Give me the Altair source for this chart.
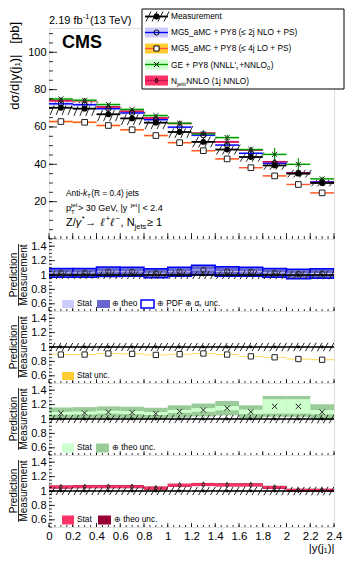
import altair as alt
import pandas as pd

FONT = "Liberation Sans"
W_PLOT = 285
H_MAIN = 211
H_RATIO = 72
NB = "\u00a0"

# ---------------- data ----------------
bin_lo = [0.0, 0.2, 0.4, 0.6, 0.8, 1.0, 1.2, 1.4, 1.6, 1.8, 2.0, 2.2]
bin_hi = [0.2, 0.4, 0.6, 0.8, 1.0, 1.2, 1.4, 1.6, 1.8, 2.0, 2.2, 2.4]
meas = [70.3, 69.8, 66.8, 64.6, 62.3, 57.3, 52.0, 47.9, 43.9, 39.4, 35.0, 30.0]
meas_rel_err = [0.055, 0.055, 0.055, 0.055, 0.055, 0.055, 0.056, 0.056, 0.057, 0.058, 0.058, 0.06]

nlo_pred = [72.4, 71.9, 69.8, 67.5, 63.9, 59.9, 55.6, 50.3, 45.9, 40.6, 35.5, 30.6]
lo_pred = [62.9, 62.5, 60.8, 58.5, 55.4, 51.6, 47.3, 42.9, 38.2, 33.8, 29.2, 24.7]
ge_pred = [75.0, 74.3, 72.0, 69.4, 66.1, 62.0, 56.3, 54.3, 47.9, 45.3, 40.0, 32.2]
ge_err = [0.4, 0.4, 0.5, 0.5, 0.5, 0.6, 0.8, 1.5, 1.5, 3.4, 3.2, 1.2]
nnlo_pred = [74.2, 74.0, 70.8, 68.5, 64.8, 61.9, 56.7, 52.0, 47.6, 41.4, 35.4, 30.3]

nlo_ratio = [1.03, 1.03, 1.045, 1.045, 1.025, 1.045, 1.07, 1.05, 1.045, 1.03, 1.015, 1.02]
nlo_theo = [0.062, 0.062, 0.066, 0.062, 0.062, 0.062, 0.066, 0.066, 0.062, 0.062, 0.066, 0.066]
nlo_stat = [0.006, 0.006, 0.006, 0.006, 0.006, 0.006, 0.006, 0.006, 0.007, 0.007, 0.008, 0.008]

lo_ratio = [0.895, 0.895, 0.91, 0.905, 0.89, 0.90, 0.91, 0.895, 0.87, 0.857, 0.833, 0.823]
lo_stat = [0.005, 0.005, 0.005, 0.005, 0.005, 0.005, 0.005, 0.005, 0.005, 0.005, 0.006, 0.006]

ge_ratio = [1.08, 1.085, 1.095, 1.09, 1.076, 1.105, 1.125, 1.15, 1.10, 1.175, 1.175, 1.095]
ge_stat = [0.02, 0.02, 0.02, 0.02, 0.02, 0.02, 0.025, 0.03, 0.03, 0.10, 0.10, 0.03]
ge_theo = [0.08, 0.08, 0.08, 0.08, 0.08, 0.085, 0.09, 0.10, 0.09, 0.145, 0.145, 0.11]

nnlo_ratio = [1.055, 1.06, 1.06, 1.06, 1.04, 1.08, 1.09, 1.085, 1.085, 1.05, 1.01, 1.01]
nnlo_stat = [0.018, 0.018, 0.018, 0.018, 0.018, 0.018, 0.018, 0.018, 0.018, 0.018, 0.018, 0.018]
nnlo_theo = [0.022, 0.022, 0.022, 0.022, 0.022, 0.022, 0.022, 0.022, 0.022, 0.022, 0.022, 0.022]

x_tick_labels = [0, 0.2, 0.4, 0.6, 0.8, 1.0, 1.2, 1.4, 1.6, 1.8, 2.0, 2.2, 2.4]
x_minor_ticks = [i * 0.05 for i in range(49)]
main_y_labels = [20, 40, 60, 80, 100]
main_y_major = [0, 20, 40, 60, 80, 100]
main_y_minor = list(range(0, 114, 5))
ratio_y_labels = [0.6, 0.8, 1.0, 1.2, 1.4]
ratio_y_minor = [0.5 + i * 0.05 for i in range(21)]

XDOM = [0, 2.4]
MAIN_YDOM = [0, 113]
RATIO_YDOM = [0.5, 1.5]

# colours
C_NLO_LINE, C_NLO_BAND = "#0000ff", "#ccccff"
C_LO_LINE, C_LO_BAND = "#ff5533", "#ffcc33"
C_GE_LINE, C_GE_BAND = "#009900", "#ccffcc"
C_NNLO_LINE, C_NNLO_BAND = "#cc1155", "#ff3366"

X_PATH = "M-1,-1L1,1M-1,1L1,-1"
DIAMOND_PATH = "M0,-1L0.55,0L0,1L-0.55,0Z"

one = pd.DataFrame({"d": [0]})

CW = {' ': .278, NB: .278, '(': .333, ')': .333, '+': .584, ',': .278, '-': .333, '.': .278,
      '/': .278, '<': .584, '=': .584, '>': .584, '|': .26, '[': .278, ']': .278, '_': .556,
      "'": .191, '≤': .584, '≥': .584, '⊕': .84, 'γ': .55, 'ℓ': .45, '→': .84, '*': .389,
      'α': .65, 'τ': .45, '−': .584, 'A': .667, 'C': .722, 'E': .667, 'G': .778, 'L': .556,
      'M': .833, 'N': .722, 'O': .778, 'P': .667, 'R': .722, 'S': .667, 'T': .611, 'V': .667,
      'Y': .667, 'Z': .611, 'c': .5, 'f': .278, 'i': .222, 'j': .222, 'k': .5, 'l': .222,
      'm': .833, 'r': .333, 's': .5, 't': .278, 'v': .5, 'x': .5, 'y': .5, 'z': .5}


def tw(s):
    return sum(CW.get(ch, 0.556) for ch in s)


def vtext(text, x, y, size=8.3, align="left", baseline="middle", weight="normal",
          style="normal", angle=0, color="black"):
    kw = dict(align=align, baseline=baseline, fontSize=size, font=FONT,
              fontWeight=weight, fontStyle=style, color=color)
    if angle:
        kw["angle"] = angle
    return alt.Chart(one).mark_text(**kw).encode(
        x=alt.value(x), y=alt.value(y), text=alt.value(text))


def rich(segs, x, y, size):
    """Text with sub/superscripts; spaces become non-breaking so SVG keeps them."""
    out = []
    cx = x
    for seg in segs:
        text, kind = seg[0], seg[1]
        adv = seg[2] if len(seg) > 2 else True
        text = text.replace(" ", NB)
        fs, dy, style = size, 0, "normal"
        if kind in ("i", "subi", "supi"):
            style = "italic"
        if kind in ("sub", "subi"):
            fs, dy = size * 0.68, size * 0.3
        if kind in ("sup", "supi"):
            fs, dy = size * 0.68, -size * 0.42
        out.append(vtext(text, cx, y + dy, size=fs, baseline="alphabetic", style=style))
        if adv:
            cx += tw(text) * fs + (0.6 if kind in ("sub", "sup") else 0)
    return out


def vrect(x1, x2, y1, y2, fill, stroke=None, sw=1):
    kw = dict(fill=fill)
    if stroke:
        kw.update(stroke=stroke, strokeWidth=sw)
    return alt.Chart(one).mark_rect(**kw).encode(
        x=alt.value(x1), x2=alt.value(x2), y=alt.value(y1), y2=alt.value(y2))


def vrule(x1, x2, y1, y2, color="black", sw=1):
    return alt.Chart(one).mark_rule(color=color, strokeWidth=sw).encode(
        x=alt.value(x1), x2=alt.value(x2), y=alt.value(y1), y2=alt.value(y2))


def vpoint(x, y, shape, fill=None, size=30, filled=False):
    kw = dict(shape=shape, size=size, stroke="black", strokeWidth=1, opacity=1)
    if filled:
        kw.update(filled=True, fill=fill or "black", fillOpacity=1)
    else:
        kw.update(filled=False)
    return alt.Chart(one).mark_point(**kw).encode(x=alt.value(x), y=alt.value(y))


def hatch_df(lo, hi, ylo, yhi, n, dx):
    rows = []
    for a, b, c, d in zip(lo, hi, ylo, yhi):
        step = (b - a) / n
        for k in range(n):
            x0 = a + (k + 0.2) * step
            rows.append({"hx": x0, "hx2": x0 + dx, "hy": c, "hy2": d})
    return pd.DataFrame(rows)


xscale = alt.Scale(domain=XDOM, nice=False, zero=False)


def make_x(field, bottom=False):
    if bottom:
        ax = alt.Axis(values=x_tick_labels, format="~g", ticks=False, domain=False, grid=False,
                      labelFontSize=11.5, labelPadding=3, labelFlush=False, labelOverlap=False,
                      labelColor="black", labelFont=FONT,
                      title="|y(j₁)|", titleFontSize=11.5, titleFontWeight="normal",
                      titleAnchor="end", titlePadding=1, titleColor="black", titleFont=FONT)
    else:
        ax = None
    return alt.X(field, type="quantitative", scale=xscale, axis=ax)


def make_y(field, main):
    if main:
        sc = alt.Scale(domain=MAIN_YDOM, nice=False, zero=False)
        ax = alt.Axis(values=main_y_labels, ticks=False, domain=False, grid=False,
                      labelFontSize=11, labelPadding=3, labelColor="black", labelFont=FONT,
                      title=None)
    else:
        sc = alt.Scale(domain=RATIO_YDOM, nice=False, zero=False)
        ax = alt.Axis(values=ratio_y_labels, format="~g", ticks=False, domain=False, grid=False,
                      labelFontSize=11, labelPadding=3, labelColor="black", labelFont=FONT,
                      title=None)
    return alt.Y(field, type="quantitative", scale=sc, axis=ax)


def tick_layers(main, H, bottom=False):
    ymaj, ymin = (main_y_major, main_y_minor) if main else (ratio_y_labels, ratio_y_minor)
    lmaj, lmin = (8, 4) if main else (6, 3)
    xl_maj, xl_min = (6, 3) if main else (4, 2)
    L = []
    L.append(alt.Chart(pd.DataFrame({"t": ymin})).mark_rule(color="black", strokeWidth=0.8).encode(
        x=alt.value(0), x2=alt.value(lmin), y=make_y("t", main)))
    L.append(alt.Chart(pd.DataFrame({"t": ymaj})).mark_rule(color="black", strokeWidth=0.8).encode(
        x=alt.value(0), x2=alt.value(lmaj), y=make_y("t", main)))
    L.append(alt.Chart(pd.DataFrame({"t": x_minor_ticks})).mark_rule(color="black", strokeWidth=0.8).encode(
        x=make_x("t", bottom), y=alt.value(H), y2=alt.value(H - xl_min)))
    L.append(alt.Chart(pd.DataFrame({"t": x_tick_labels})).mark_rule(color="black", strokeWidth=0.8).encode(
        x=make_x("t", bottom), y=alt.value(H), y2=alt.value(H - xl_maj)))
    return L


# ---------------- main panel ----------------
mdf = pd.DataFrame({"lo": bin_lo, "hi": bin_hi, "meas": meas, "err": meas_rel_err,
                    "nlo": nlo_pred, "lop": lo_pred, "ge": ge_pred, "gee": ge_err,
                    "nnlo": nnlo_pred})
mdf["mid"] = (mdf["lo"] + mdf["hi"]) / 2
mdf["ge_lo"] = mdf["ge"] - mdf["gee"]
mdf["ge_hi"] = mdf["ge"] + mdf["gee"]
for col, w in [("nlo", 0.012), ("lop", 0.008), ("ge", 0.012), ("nnlo", 0.01)]:
    mdf[col + "_b1"] = mdf[col] * (1 - w)
    mdf[col + "_b2"] = mdf[col] * (1 + w)

mh = hatch_df(bin_lo, bin_hi, [m * (1 - e) for m, e in zip(meas, meas_rel_err)],
              [m * (1 + e) for m, e in zip(meas, meas_rel_err)], 4, 0.05)

base = alt.Chart(mdf)
main_layers = []
main_layers.append(alt.Chart(mh).mark_rule(color="#222222", strokeWidth=1, clip=True).encode(
    x=make_x("hx"), x2="hx2", y=make_y("hy", True), y2="hy2"))
for col, band in [("lop", C_LO_BAND), ("nlo", C_NLO_BAND), ("nnlo", C_NNLO_BAND), ("ge", C_GE_BAND)]:
    main_layers.append(base.mark_rect(fill=band, opacity=0.9).encode(
        x=make_x("lo"), x2="hi", y=make_y(col + "_b1", True), y2=col + "_b2"))
for col, line in [("lop", C_LO_LINE), ("nlo", C_NLO_LINE), ("nnlo", C_NNLO_LINE), ("ge", C_GE_LINE)]:
    main_layers.append(base.mark_rule(color=line, strokeWidth=1.4).encode(
        x=make_x("lo"), x2="hi", y=make_y(col, True)))
main_layers.append(base.mark_rule(color=C_GE_LINE, strokeWidth=1.2).encode(
    x=make_x("mid"), y=make_y("ge_lo", True), y2="ge_hi"))
main_layers.append(base.mark_rule(color="black", strokeWidth=1.8).encode(
    x=make_x("lo"), x2="hi", y=make_y("meas", True)))
main_layers.append(base.mark_point(shape="circle", filled=False, stroke="black", strokeWidth=1,
                                   size=28, opacity=1).encode(x=make_x("mid"), y=make_y("nlo", True)))
main_layers.append(base.mark_point(shape="square", filled=True, fill="white", stroke="#222222",
                                   strokeWidth=1, size=32, fillOpacity=1, opacity=1).encode(
    x=make_x("mid"), y=make_y("lop", True)))
main_layers.append(base.mark_point(shape=X_PATH, filled=False, stroke="#222222", strokeWidth=1,
                                   size=26, opacity=1).encode(x=make_x("mid"), y=make_y("ge", True)))
main_layers.append(base.mark_point(shape=DIAMOND_PATH, filled=False, stroke="#222222", strokeWidth=1,
                                   size=30, opacity=1).encode(x=make_x("mid"), y=make_y("nnlo", True)))
main_layers.append(base.mark_circle(color="black", size=34, opacity=1).encode(
    x=make_x("mid"), y=make_y("meas", True)))
main_layers += tick_layers(True, H_MAIN)

# header texts
main_layers += rich([("2.19 fb", "n"), ("-1", "sup"), (" (13 TeV)", "n")], 0, -4, 11)
main_layers.append(vtext("CMS", 13, 20, size=18, weight="bold", baseline="alphabetic"))
main_layers += rich([("Anti-", "n"), ("k", "i"), ("T", "sub"), (" (R = 0.4) jets", "n")], 17, 167.5, 8.3)
main_layers += rich([("p", "n"), ("T", "sub", False), ("jet", "sup"), (" > 30 GeV, |y", "n"),
                     ("jet", "sup"), ("| < 2.4", "n")], 17, 183, 9)
main_layers += rich([("Z/", "n"), ("γ", "i"), ("*", "sup"), (" → ", "n"), ("ℓ", "i"), ("+", "sup"),
                     ("ℓ", "i"), ("−", "sup"), (", N", "n"), ("jets", "sub"), (" ≥ 1", "n")],
                    17, 197.5, 11)
main_layers.append(vtext("dσ/d|y(j₁)|" + NB * 3 + "[pb]", -34, -6, size=13, align="right",
                         baseline="middle", angle=270))

# legend
LX1, LX2 = 96, 119
LXM = (LX1 + LX2) / 2
main_layers.append(vrect(93, 295, -19, 61, "white", stroke="black", sw=1))
legend_rows = [-11.5, 4.5, 20.5, 36.5, 52.5]
c = legend_rows[0]
for k in range(4):
    main_layers.append(vrule(LX1 + 1 + k * 6, LX1 + 6 + k * 6, c + 5, c - 5, color="#222222"))
main_layers.append(vrule(LX1, LX2, c, c, color="black", sw=1.8))
main_layers.append(vpoint(LXM, c, "circle", size=28, filled=True))
main_layers.append(vtext("Measurement", 122, c))
for c, band, line, shape, filled in [(legend_rows[1], C_NLO_BAND, C_NLO_LINE, "circle", False),
                                     (legend_rows[2], C_LO_BAND, C_LO_LINE, "square", True),
                                     (legend_rows[3], C_GE_BAND, C_GE_LINE, X_PATH, False),
                                     (legend_rows[4], C_NNLO_BAND, C_NNLO_LINE, DIAMOND_PATH, False)]:
    main_layers.append(vrect(LX1, LX2, c - 5, c + 5, band))
    main_layers.append(vrule(LX1, LX2, c, c, color=line, sw=1.4))
    main_layers.append(vpoint(LXM, c, shape, fill="white", size=26, filled=filled))
main_layers.append(vtext("MG5_aMC + PY8 (≤ 2j NLO + PS)", 122, legend_rows[1]))
main_layers.append(vtext("MG5_aMC + PY8 (≤ 4j LO + PS)", 122, legend_rows[2]))
main_layers += rich([("GE + PY8 (NNLL'", "n"), ("τ", "sub"), ("+NNLO", "n"), ("0", "sub"), (")", "n")],
                    122, legend_rows[3] + 3, 8.3)
main_layers += rich([("N", "n"), ("jetti", "sub"), (" NNLO (1j NNLO)", "n")], 122, legend_rows[4] + 3, 8.3)

main_chart = alt.layer(*main_layers).properties(width=W_PLOT, height=H_MAIN)


# ---------------- ratio panels ----------------
def ratio_panel(ratio, bands, marker, legend, bottom=False):
    H = H_RATIO
    rdf = pd.DataFrame({"lo": bin_lo, "hi": bin_hi, "r": ratio, "one": [1.0] * len(bin_lo)})
    rdf["mid"] = (rdf["lo"] + rdf["hi"]) / 2
    for i, (half, fill, stroke) in enumerate(bands):
        rdf[f"b{i}a"] = [r - h for r, h in zip(ratio, half)]
        rdf[f"b{i}b"] = [r + h for r, h in zip(ratio, half)]
    rb = alt.Chart(rdf)
    L = []
    for i, (half, fill, stroke) in enumerate(bands):
        kw = dict(fill=fill, clip=True)
        if stroke:
            kw.update(stroke=stroke, strokeWidth=1.5)
        L.append(rb.mark_rect(**kw).encode(x=make_x("lo", bottom), x2="hi",
                                           y=make_y(f"b{i}a", False), y2=f"b{i}b"))
    hd = hatch_df(bin_lo, bin_hi, [1 - e for e in meas_rel_err], [1 + e for e in meas_rel_err], 4, 0.04)
    L.append(alt.Chart(hd).mark_rule(color="#222222", strokeWidth=1, clip=True).encode(
        x=make_x("hx", bottom), x2="hx2", y=make_y("hy", False), y2="hy2"))
    L.append(rb.mark_rule(color="black", strokeWidth=1.6).encode(
        x=make_x("lo", bottom), x2="hi", y=make_y("one", False)))
    L.append(rb.mark_circle(color="black", size=8, opacity=1).encode(
        x=make_x("mid", bottom), y=make_y("one", False)))
    shape, filled = marker
    kw = dict(shape=shape, stroke="#222222", strokeWidth=1, size=28, opacity=1)
    if filled:
        kw.update(filled=True, fill="white", fillOpacity=1)
    else:
        kw.update(filled=False)
    L.append(rb.mark_point(**kw).encode(x=make_x("mid", bottom), y=make_y("r", False)))
    L += tick_layers(False, H, bottom)
    # y title as a fraction
    L.append(vtext("Prediction", -35.5, H / 2, size=10, align="center", angle=270))
    L.append(vtext("Measurement", -25, H / 2, size=10, align="center", angle=270))
    L.append(vrule(-30.5, -30.5, H / 2 - 31, H / 2 + 31, sw=0.8))
    L += legend
    return alt.layer(*L).properties(width=W_PLOT, height=H)


LY = 65
leg1 = [vrect(13, 25, LY - 4, LY + 4, C_NLO_BAND), vtext("Stat", 28, LY),
        vrect(48, 61, LY - 4, LY + 4, "#6666cc"), vtext("⊕ theo", 63, LY),
        vrect(92, 105, LY - 4, LY + 4, "white", stroke="#0000ff", sw=1.5),
        vtext("⊕ PDF ⊕ αₛ unc.", 108, LY)]
leg2 = [vrect(13, 25, LY - 4, LY + 4, C_LO_BAND), vtext("Stat unc.", 28, LY)]
leg3 = [vrect(13, 25, LY - 4.5, LY + 4.5, C_GE_BAND), vtext("Stat", 28, LY),
        vrect(47, 60, LY - 4.5, LY + 4.5, "#99cc99"), vtext("⊕ theo unc.", 63, LY)]
leg4 = [vrect(13, 25, LY - 4.5, LY + 4.5, C_NNLO_BAND), vtext("Stat", 28, LY),
        vrect(49, 62, LY - 4.5, LY + 4.5, "#990033"), vtext("⊕ theo unc.", 65, LY)]

r1 = ratio_panel(nlo_ratio, [(nlo_theo, "#6666cc", "#0000ff"), (nlo_stat, C_NLO_BAND, None)],
                 ("circle", False), leg1)
r2 = ratio_panel(lo_ratio, [(lo_stat, C_LO_BAND, None)], ("square", True), leg2)
r3 = ratio_panel(ge_ratio, [(ge_theo, "#99cc99", None), (ge_stat, C_GE_BAND, None)],
                 (X_PATH, False), leg3)
r4 = ratio_panel(nnlo_ratio, [(nnlo_theo, "#990033", None), (nnlo_stat, C_NNLO_BAND, None)],
                 (DIAMOND_PATH, False), leg4, bottom=True)

chart = alt.vconcat(main_chart, r1, r2, r3, r4, spacing=0, bounds="flush",
                    padding={"left": 0, "top": 0, "right": 2, "bottom": 2}).configure_view(
    stroke="black", strokeWidth=1).configure(font=FONT)

chart.save("out.html", embed_options={"renderer": "svg", "actions": False})
